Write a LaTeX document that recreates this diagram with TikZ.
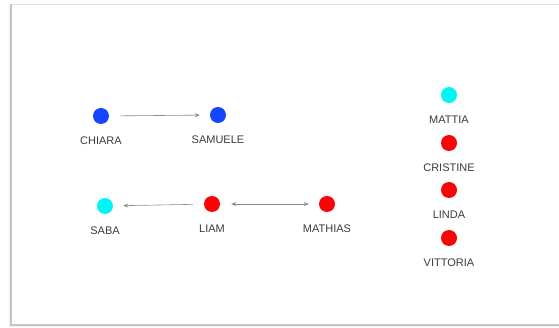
\documentclass[tikz,border=0pt]{standalone}
\usepackage{fontspec}
\setmainfont{Liberation Sans}
\usetikzlibrary{arrows.meta}
\definecolor{dotblue}{RGB}{20,70,255}
\definecolor{dotcyan}{RGB}{0,245,245}
\definecolor{dotred}{RGB}{250,5,5}
\definecolor{txtgray}{RGB}{60,60,60}
\tikzset{
  pers/.style={circle, fill=#1, minimum size=16pt, inner sep=0pt},
  name lbl/.style={font=\fontsize{11}{12}\selectfont, text=txtgray,
    inner sep=0pt, yshift=-12.5pt},
  rel/.style={draw=gray!90, line width=0.6pt, -{Stealth[length=5pt,width=4pt]},
    shorten <=11pt, shorten >=10pt},
}
\begin{document}
\begin{tikzpicture}[x=1pt, y=1pt]
  \useasboundingbox (0,0) rectangle (559,-328);
  % panel with its shadow
  \fill[gray!12] (9,-6) rectangle (559,-327);
  \fill[white] (12,-4) rectangle (559,-324);
  \draw[gray!25, line width=0.8pt] (12,-4) -- (559,-4);
  \draw[gray!45, line width=1.2pt] (11,-4) -- (11,-325) -- (559,-325);
  % the people
  \node[pers=dotblue, label={[name lbl]below:CHIARA}] (chiara) at (101,-116) {};
  \node[pers=dotblue, label={[name lbl]below:SAMUELE}] (samuele) at (218,-115) {};
  \node[pers=dotcyan, label={[name lbl]below:SABA}] (saba) at (105,-206) {};
  \node[pers=dotred, label={[name lbl]below:LIAM}] (liam) at (212,-204) {};
  \node[pers=dotred, label={[name lbl]below:MATHIAS}] (mathias) at (327,-204) {};
  \node[pers=dotcyan, label={[name lbl]below:MATTIA}] (mattia) at (449,-95) {};
  \node[pers=dotred, label={[name lbl]below:CRISTINE}] (cristine) at (449,-143) {};
  \node[pers=dotred, label={[name lbl]below:LINDA}] (linda) at (449,-190) {};
  \node[pers=dotred, label={[name lbl]below:VITTORIA}] (vittoria) at (449,-238) {};
  % relations
  \draw[rel] (chiara) -- (samuele);
  \draw[rel] (liam) -- (saba);
  \draw[rel, {Stealth[length=5pt,width=4pt]}-{Stealth[length=5pt,width=4pt]}] (liam) -- (mathias);
\end{tikzpicture}
\end{document}
